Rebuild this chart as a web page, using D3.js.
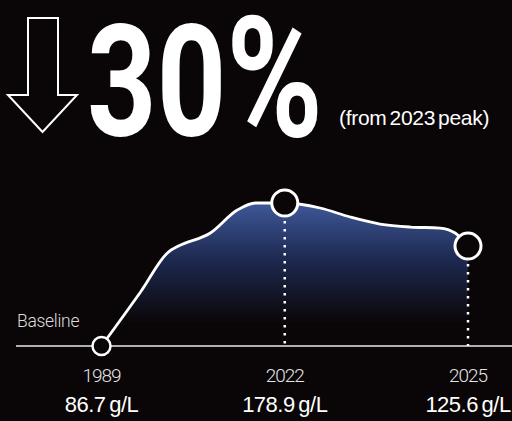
<!DOCTYPE html>
<html><head><meta charset="utf-8">
<script src="https://cdn.jsdelivr.net/npm/d3@7"></script>
<style>html,body{margin:0;padding:0;background:#0a0506;}svg{display:block;}</style>
</head><body>
<script>
// ---- data ----
const headlineNumber = "30";
const headlineUnit = "%";
const headlineNote = "(from 2023 peak)";
const baselineLabel = "Baseline";
const labelYears = ["1989", "2022", "2025"];
const labelValues = ["86.7 g/L", "178.9 g/L", "125.6 g/L"];
const markerPos = [0, 1, 2];
const markerIndex = [0, 100, 69.9];
// curve shape (relative index, 0 = baseline, 100 = peak) by position between labelled years
const curvePos =   [0, 0.213, 0.365, 0.42, 0.594, 0.741, 0.84, 1.0, 1.193, 1.357, 1.52, 1.684, 1.847, 1.93, 2.0];
const curveIndex = [0, 37.8, 65.7, 69.9, 79.0, 95.1, 100, 100, 96.5, 90.2, 85.3, 83.2, 82.5, 79.0, 69.9];

const W = 512, H = 421, BG = "#0a0506";
const svg = d3.select("body").append("svg").attr("width", W).attr("height", H);
svg.append("rect").attr("width", W).attr("height", H).attr("fill", BG);

const x = d3.scaleLinear().domain([0, 2]).range([101.5, 468]);
const y = d3.scaleLinear().domain([0, 100]).range([346, 203]);

// gradient
const defs = svg.append("defs");
const grad = defs.append("linearGradient").attr("id", "g").attr("gradientUnits", "userSpaceOnUse")
  .attr("x1", 0).attr("x2", 0).attr("y1", y(100)).attr("y2", y(15));
grad.append("stop").attr("offset", 0).attr("stop-color", "#3f5899");
grad.append("stop").attr("offset", 0.45).attr("stop-color", "#1e2a52");
grad.append("stop").attr("offset", 1).attr("stop-color", BG);

const pts = curvePos.map((p, i) => [p, curveIndex[i]]);
const area = d3.area().x(d => x(d[0])).y0(y(0)).y1(d => y(d[1])).curve(d3.curveMonotoneX);
const line = d3.line().x(d => x(d[0])).y(d => y(d[1])).curve(d3.curveMonotoneX);

svg.append("path").attr("d", area(pts)).attr("fill", "url(#g)");

// baseline
svg.append("line").attr("x1", 16).attr("x2", W).attr("y1", y(0)).attr("y2", y(0))
  .attr("stroke", "#e8e8e8").attr("stroke-width", 1.5);

svg.append("path").attr("d", line(pts)).attr("fill", "none")
  .attr("stroke", "#fff").attr("stroke-width", 2.8).attr("stroke-linejoin", "round");

// dotted drops
const radii = markerPos.map((p, i) => i === 0 ? 9 : 13);
markerPos.forEach((p, i) => {
  if (i === 0) return;
  svg.append("line").attr("x1", x(p)).attr("x2", x(p))
    .attr("y1", y(markerIndex[i]) + radii[i] + 5).attr("y2", y(0))
    .attr("stroke", "#fff").attr("stroke-width", 2.5).attr("stroke-dasharray", "2.5,5.5");
});

// markers
svg.selectAll("circle.m").data(markerPos).join("circle").attr("class", "m")
  .attr("cx", d => x(d)).attr("cy", (d, i) => y(markerIndex[i]))
  .attr("r", (d, i) => radii[i]).attr("fill", BG)
  .attr("stroke", "#fff").attr("stroke-width", (d, i) => i === 0 ? 2.5 : 3);

// labels
svg.append("text").attr("x", 17).attr("y", 327).text(baselineLabel)
  .attr("fill", "#dedede").attr("font-family", "Roboto").attr("font-weight", 300)
  .attr("font-size", 17.5).attr("letter-spacing", -0.3);

svg.selectAll("text.yr").data(labelYears).join("text").attr("class", "yr")
  .attr("x", (d, i) => x(markerPos[i])).attr("y", 382).attr("text-anchor", "middle")
  .attr("fill", "#e4e4e4").attr("font-family", "Roboto").attr("font-weight", 300)
  .attr("font-size", 19).attr("letter-spacing", -1).text(d => d);

svg.selectAll("text.val").data(labelValues).join("text").attr("class", "val")
  .attr("x", (d, i) => x(markerPos[i])).attr("y", 412).attr("text-anchor", "middle")
  .attr("fill", "#fff").attr("font-family", "Liberation Sans, Arial, sans-serif").attr("font-weight", 400)
  .attr("font-size", 22).attr("letter-spacing", -0.5).attr("word-spacing", -2).text(d => d);

// header arrow
const arrow = d3.path();
arrow.moveTo(28, 18); arrow.lineTo(58, 18); arrow.lineTo(58, 95); arrow.lineTo(77, 95);
arrow.lineTo(42.5, 132); arrow.lineTo(8, 95); arrow.lineTo(28, 95); arrow.closePath();
svg.append("path").attr("d", arrow.toString()).attr("fill", "none")
  .attr("stroke", "#fff").attr("stroke-width", 2).attr("stroke-linejoin", "miter");

const head = svg.append("text")
  .attr("fill", "#fff").attr("font-family", "Roboto").attr("font-weight", 700)
  .attr("font-size", 156);
head.append("tspan").text(headlineNumber);
head.append("tspan").attr("font-size", 168).attr("dy", 1).text(headlineUnit);
const hw = head.node().getComputedTextLength();
head.attr("transform", `translate(87,135) scale(${236 / hw},1)`);

svg.append("text").attr("x", 339).attr("y", 125).text(headlineNote)
  .attr("fill", "#fff").attr("font-family", "Liberation Sans, Arial, sans-serif").attr("font-weight", 400)
  .attr("font-size", 21).attr("letter-spacing", -0.3).attr("word-spacing", -2.5);
</script>
</body></html>
